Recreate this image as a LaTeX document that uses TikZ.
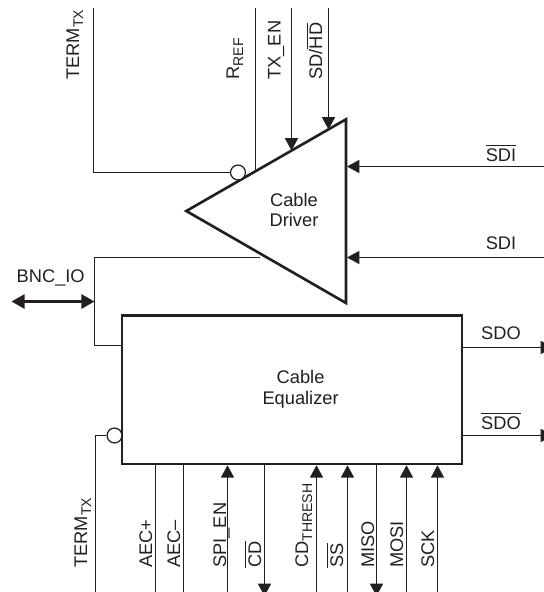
\documentclass[tikz,border=0pt]{standalone}
\usepackage{fontspec}
\setmainfont{Liberation Sans}
\usepackage{tikz}
\usetikzlibrary{arrows.meta, calc}
\definecolor{ink}{HTML}{231F20}
\newcommand{\barsig}[1]{$\overline{\mbox{#1}}$}
\newcommand{\lowsub}[1]{\raisebox{-0.22em}{\fontsize{8}{9}\selectfont #1}}
\tikzset{
  wire/.style={draw=ink, line width=0.7pt},
  inwire/.style={wire, -{Triangle[length=7pt,width=7.4pt]}},
  bothwire/.style={wire, line width=1.3pt, {Triangle[length=7.4pt,width=8pt]}-{Triangle[length=7.4pt,width=8pt]}},
  block/.style={draw=ink, line width=1.5pt, fill=white},
  bubble/.style={circle, draw=ink, line width=0.7pt, fill=white, minimum size=8.5pt, inner sep=0pt},
  sig/.style={text=ink, font=\fontsize{10.4}{12}\selectfont, inner sep=0pt},
  vsig/.style={sig, rotate=90, anchor=base west},
  blocktxt/.style={sig, align=center, font=\fontsize{10.4}{11.8}\selectfont}
}

\begin{document}
\begin{tikzpicture}[x=0.02cm, y=-0.02cm]
\useasboundingbox (0,0) rectangle (544,592);
% cable driver
\coordinate (tip) at (186.3,211);
\coordinate (top) at (346,119.3);
\coordinate (bot) at (346,303);
\draw[block, line join=miter] (tip)--(top)--(bot)--cycle;
\node[blocktxt] (drvtxt) at (294,210) {Cable\\Driver};
% cable equalizer
\node[block, minimum width=340*0.02cm, minimum height=148.5*0.02cm, inner sep=0pt] (eq) at (292,389.7) {};
\node[blocktxt] (eqtxt) at (300.6,389) {Cable\\Equalizer};
% top side
\node[bubble] (bubtx) at (238,172.5) {};
\coordinate (termtop) at (93.5,8);
\coordinate (termcor) at (93.5,172.5);
\draw[wire] (termtop)--(termcor)--(bubtx);
\coordinate (rreftop) at (255.5,8);
\coordinate (rrefend) at (255.5,171.6);
\draw[wire] (rreftop)--(rrefend);
\coordinate (txentop) at (291.5,8);
\coordinate (txenend) at (291.5,150.5);
\draw[inwire] (txentop)--(txenend);
\coordinate (sdhdtop) at (328.5,8);
\coordinate (sdhdend) at (328.5,129.5);
\draw[inwire] (sdhdtop)--(sdhdend);
\node[vsig] (ltermtop) at (79,80) {TERM\lowsub{TX}};
\node[vsig] (lrref) at (239,80) {R\lowsub{REF}};
\node[vsig] (ltxen) at (280.5,80) {TX\_EN};
\node[vsig] (lsdhd) at (322,80) {SD/\barsig{HD}};
% right side
\coordinate (sdibin) at (544,166.5);
\coordinate (sdibend) at (347,166.5);
\draw[inwire] (sdibin)--(sdibend);
\coordinate (sdiin) at (544,257.5);
\coordinate (sdiend) at (347,257.5);
\draw[inwire] (sdiin)--(sdiend);
\coordinate (sdoout) at (553,347.5);
\coordinate (sdobout) at (553,435.5);
\draw[inwire] (eq.east |- sdoout)--(sdoout);
\draw[inwire] (eq.east |- sdobout)--(sdobout);
\node[sig] (lsdib) at (501,153) {\barsig{SDI}};
\node[sig] (lsdi) at (501,243.5) {SDI};
\node[sig] (lsdo) at (501,333.5) {SDO};
\node[sig] (lsdob) at (501,421) {\barsig{SDO}};
% bnc
\coordinate (bncdrv) at (260,257.5);
\coordinate (bnccor) at (94.5,257.5);
\coordinate (bnceq) at (94.5,345.5);
\draw[wire] (bncdrv)--(bnccor)--(bnceq)--(eq.west |- bnceq);
\coordinate (bncleft) at (11.5,301.5);
\coordinate (bncright) at (94.5,301.5);
\draw[bothwire] (bncleft)--(bncright);
\node[sig] (lbnc) at (50.7,277.5) {BNC\_IO};
% bottom side
\node[bubble] (bubrx) at (114.5,435.5) {};
\coordinate (termbot) at (95.5,592);
\coordinate (termrx) at (95.5,435.5);
\draw[wire] (termbot)--(termrx)--(bubrx);
\node[vsig] (ltermbot) at (87,568) {TERM\lowsub{TX}};
\foreach \i/\x in {aecp/155.5,aecm/183.5} {
  \coordinate (\i) at (\x,592);
  \draw[wire] (\i)--(\i |- eq.south);
}
\foreach \i/\x in {spien/227.5,cdthr/316.5,ss/347.5,mosi/406.5,sck/437.5} {
  \coordinate (\i) at (\x,592);
  \draw[inwire] (\i)--(\i |- eq.south);
}
\foreach \i/\x in {cd/264.5,miso/376.5} {
  \coordinate (\i) at (\x,596);
  \draw[inwire] (\i |- eq.south)--(\i);
}
\node[vsig] (laecp) at (152,568) {AEC+};
\node[vsig] (laecm) at (180,568) {AEC–};
\node[vsig] (lspien) at (226,568) {SPI\_EN};
\node[vsig] (lcd) at (261,568) {\barsig{CD}};
\node[vsig] (lcdthr) at (308,568) {CD\lowsub{THRESH}};
\node[vsig] (lss) at (343,568) {\barsig{SS}};
\node[vsig] (lmiso) at (374,568) {MISO};
\node[vsig] (lmosi) at (403,568) {MOSI};
\node[vsig] (lsck) at (434,568) {SCK};
\end{tikzpicture}
\end{document}
